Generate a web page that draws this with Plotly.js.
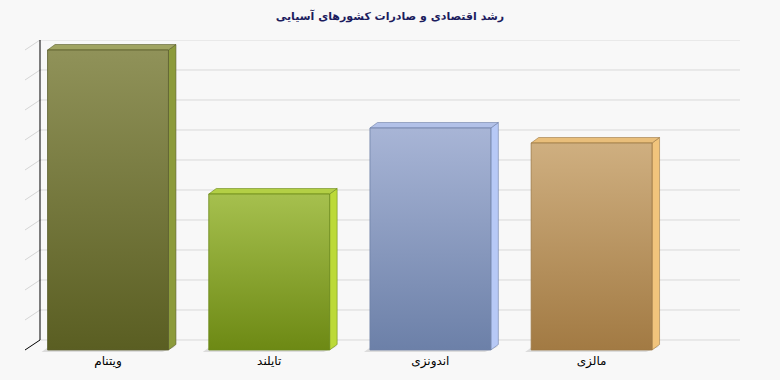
<!DOCTYPE html>
<html>
<head>
<meta charset="utf-8">
<script src="https://cdn.plot.ly/plotly-3.0.1.min.js"></script>
<style>html,body{margin:0;padding:0;background:#f8f8f8;}#chart{width:780px;height:380px;}</style>
</head>
<body>
<div id="chart"></div>
<script>
// ---- data ----
const categories = ['ویتنام', 'تایلند', 'اندونزی', 'مالزی'];
const values = [10, 5.2, 7.4, 6.9];
const gridValues = [0, 1, 2, 3, 4, 5, 6, 7, 8, 9, 10];
const chartTitle = 'رشد اقتصادی و صادرات کشورهای آسیایی';

// ---- styles ----
const frontTop    = ['#909259', '#a6c04e', '#a8b5d6', '#cfaf80'];
const frontBottom = ['#5a5e22', '#6d8914', '#6c80a8', '#a27a43'];
const sideColor   = ['#8c9b3b', '#bcda38', '#b7c9f6', '#f1c47c'];
const topColor    = ['#a0a462', '#b3cf45', '#b2c1e8', '#e9be7a'];
const edgeColor   = ['#5b5e2c', '#6c8a1a', '#6f80a6', '#9c7845'];

// axis geometry (pixels -> data units)
const pxPerX = 161.2, pxPerY = 30;
const xMin = -(108 - 25) / pxPerX;
const xMax = xMin + 715 / pxPerX;
const yMin = -2 / pxPerY;
const yMax = 10 + 10 / pxPerY;
const wallDx = 15 / pxPerX, wallDy = 10 / pxPerY;
const barDx = 7.5 / pxPerX, barDy = 5.5 / pxPerY;
const halfW = 0.375;

const traces = [];

// back wall grid lines
gridValues.forEach(g => {
  traces.push({
    type: 'scatter', mode: 'lines', hoverinfo: 'skip', showlegend: false,
    x: [xMin + wallDx, xMax], y: [g + wallDy, g + wallDy],
    line: {color: '#d9d9d9', width: 1}
  });
  // side wall diagonals
  traces.push({
    type: 'scatter', mode: 'lines', hoverinfo: 'skip', showlegend: false,
    x: [xMin, xMin + wallDx], y: [g, g + wallDy],
    line: {color: g === 0 ? '#000000' : '#d4d4d4', width: 1}
  });
});
// vertical axis line
traces.push({
  type: 'scatter', mode: 'lines', hoverinfo: 'skip', showlegend: false,
  x: [xMin + wallDx, xMin + wallDx], y: [wallDy, gridValues[gridValues.length - 1] + wallDy],
  line: {color: '#000000', width: 1}
});

values.forEach((v, i) => {
  const l = i - halfW, r = i + halfW;
  const sx = -6 / pxPerX, sy = -2 / pxPerY;
  // shadow
  traces.push({
    type: 'scatter', mode: 'lines', hoverinfo: 'skip', showlegend: false,
    x: [l + sx, r + sx, r + barDx + sx + 6 / pxPerX, l + barDx + sx, l + sx],
    y: [sy, sy, barDy + sy, barDy + sy, sy],
    fill: 'toself', fillcolor: '#dcdcdc', line: {width: 0}
  });
  // side face
  traces.push({
    type: 'scatter', mode: 'lines', hoverinfo: 'skip', showlegend: false,
    x: [r, r + barDx, r + barDx, r, r],
    y: [0, barDy, v + barDy, v, 0],
    fill: 'toself', fillcolor: sideColor[i], line: {color: edgeColor[i], width: 0.6}
  });
  // top face
  traces.push({
    type: 'scatter', mode: 'lines', hoverinfo: 'skip', showlegend: false,
    x: [l, r, r + barDx, l + barDx, l],
    y: [v, v, v + barDy, v + barDy, v],
    fill: 'toself', fillcolor: topColor[i], line: {color: edgeColor[i], width: 0.6}
  });
  // front face
  traces.push({
    type: 'scatter', mode: 'lines', hoverinfo: 'skip', showlegend: false,
    x: [l, r, r, l, l],
    y: [0, 0, v, v, 0],
    fill: 'toself', fillcolor: frontTop[i],
    fillgradient: {type: 'vertical', colorscale: [[0, frontBottom[i]], [1, frontTop[i]]]},
    line: {color: edgeColor[i], width: 0.8}
  });
});

const layout = {
  width: 780, height: 380,
  paper_bgcolor: '#f8f8f8', plot_bgcolor: '#f8f8f8',
  margin: {l: 25, r: 40, t: 40, b: 28},
  showlegend: false,
  title: {
    text: '<b>' + chartTitle + '</b>',
    font: {family: 'DejaVu Sans, sans-serif', size: 11, color: '#1c1c5e'},
    x: 0.5, xanchor: 'center', y: 1 - 16 / 380, yanchor: 'middle', yref: 'container'
  },
  xaxis: {
    range: [xMin, xMax], tickvals: categories.map((c, i) => i), ticktext: categories,
    showgrid: false, zeroline: false, showline: false, ticks: '',
    tickfont: {family: 'DejaVu Sans, sans-serif', size: 12, color: '#000000'},
    fixedrange: true
  },
  yaxis: {
    range: [yMin, yMax], showgrid: false, zeroline: false, showline: false,
    showticklabels: false, ticks: '', fixedrange: true
  },
  hovermode: false
};

Plotly.newPlot('chart', traces, layout, {displayModeBar: false, staticPlot: true});
</script>
</body>
</html>
